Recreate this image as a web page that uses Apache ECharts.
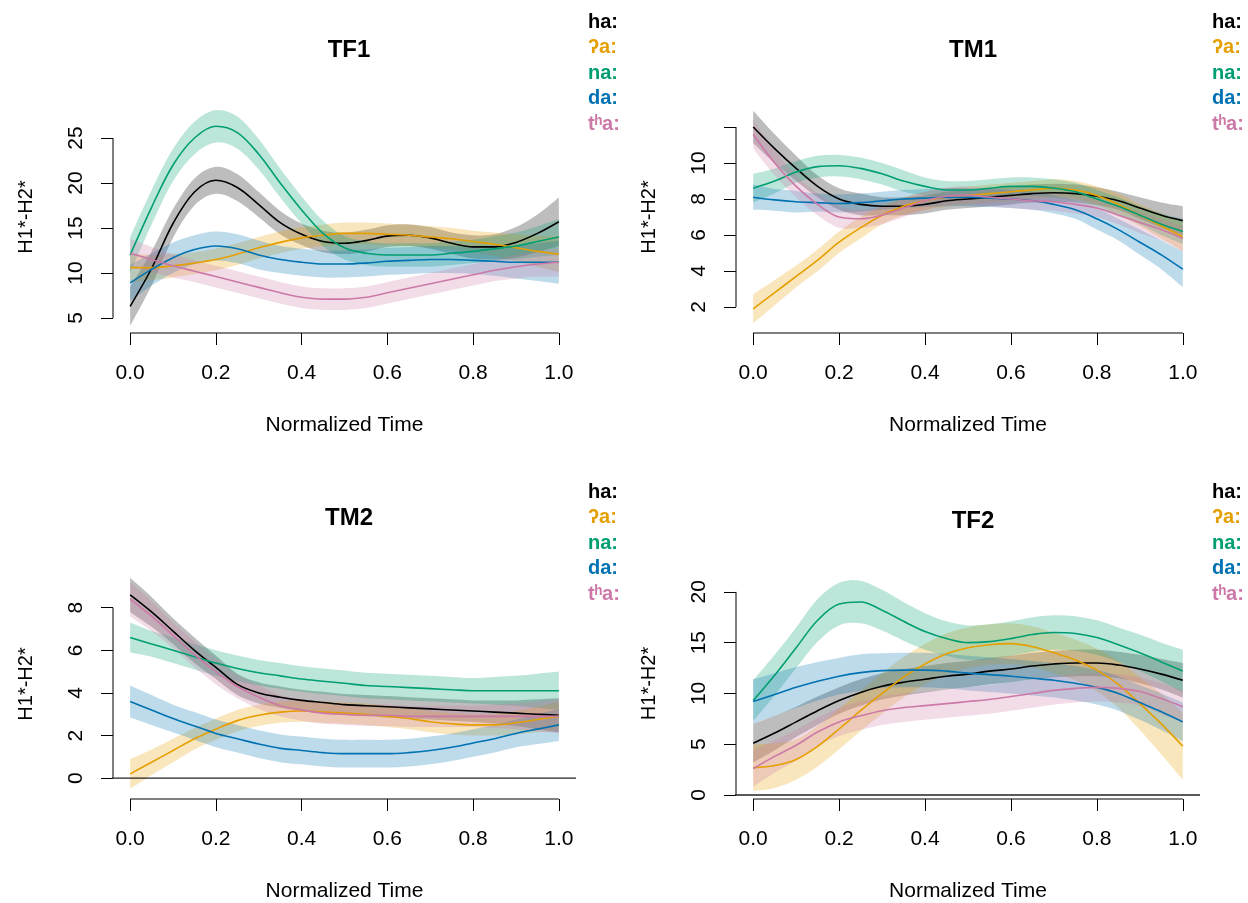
<!DOCTYPE html>
<html>
<head>
<meta charset="utf-8">
<script src="https://cdn.jsdelivr.net/npm/echarts@6/dist/echarts.min.js"></script>
<style>
  html, body { margin: 0; padding: 0; background: #fff; }
  #chart { width: 1248px; height: 903px; }
</style>
</head>
<body>
<div id="chart"></div>
<script>
// Normalized time grid shared by every smooth
const T = [0, 0.05, 0.1, 0.15, 0.2, 0.25, 0.3, 0.35, 0.4, 0.45, 0.5, 0.55, 0.6, 0.65, 0.7, 0.75, 0.8, 0.85, 0.9, 0.95, 1];
const X_TICKS = [0, 0.2, 0.4, 0.6, 0.8, 1];

const ONSETS = ['ha', 'ʔa', 'na', 'da', 'tʰa'];
const COLORS = ['#000000', '#E69F00', '#009E73', '#0072B2', '#CC79A7'];

// ---- TF1: fitted H1*-H2* and half-width of the confidence band ----
const tf1_ha     = [6.3, 10.5, 15.5, 19.0, 20.3, 19.5, 17.6, 15.6, 14.3, 13.5, 13.3, 13.6, 14.1, 14.2, 13.9, 13.3, 12.9, 12.9, 13.4, 14.4, 15.7];
const tf1_ha_ci  = [2.2, 1.9, 1.6, 1.5, 1.5, 1.5, 1.4, 1.3, 1.2, 1.2, 1.2, 1.2, 1.2, 1.2, 1.2, 1.2, 1.3, 1.4, 1.7, 2.1, 2.7];
const tf1_ga     = [10.6, 10.6, 10.8, 11.1, 11.5, 12.1, 12.8, 13.4, 13.9, 14.2, 14.4, 14.4, 14.3, 14.2, 14.0, 13.8, 13.5, 13.2, 12.8, 12.4, 12.1];
const tf1_ga_ci  = [1.6, 1.4, 1.3, 1.2, 1.2, 1.2, 1.2, 1.2, 1.2, 1.2, 1.2, 1.2, 1.2, 1.2, 1.2, 1.2, 1.2, 1.3, 1.5, 1.7, 2.0];
const tf1_na     = [12.0, 17.3, 22.0, 25.0, 26.3, 25.6, 23.2, 20.0, 17.0, 14.4, 12.8, 12.2, 12.0, 12.0, 12.0, 12.2, 12.4, 12.7, 13.0, 13.5, 14.0];
const tf1_na_ci  = [2.0, 1.9, 1.8, 1.8, 1.8, 1.8, 1.7, 1.6, 1.5, 1.4, 1.3, 1.3, 1.3, 1.3, 1.3, 1.3, 1.3, 1.4, 1.5, 1.7, 2.0];
const tf1_da     = [8.9, 10.4, 11.7, 12.6, 13.0, 12.7, 12.0, 11.5, 11.2, 11.0, 11.0, 11.1, 11.3, 11.4, 11.5, 11.5, 11.4, 11.3, 11.2, 11.2, 11.2];
const tf1_da_ci  = [2.0, 1.8, 1.7, 1.6, 1.6, 1.6, 1.6, 1.5, 1.5, 1.5, 1.5, 1.5, 1.5, 1.5, 1.5, 1.5, 1.5, 1.6, 1.8, 2.1, 2.4];
const tf1_tha    = [12.2, 11.5, 10.8, 10.2, 9.6, 9.0, 8.4, 7.8, 7.3, 7.1, 7.1, 7.3, 7.8, 8.3, 8.8, 9.3, 9.8, 10.3, 10.7, 11.0, 11.2];
const tf1_tha_ci = [1.6, 1.4, 1.3, 1.2, 1.2, 1.2, 1.2, 1.2, 1.2, 1.2, 1.2, 1.2, 1.2, 1.2, 1.2, 1.2, 1.2, 1.2, 1.3, 1.4, 1.6];

// ---- TM1 ----
const tm1_ha     = [12.0, 10.8, 9.7, 8.7, 8.0, 7.7, 7.6, 7.6, 7.7, 7.9, 8.0, 8.1, 8.2, 8.3, 8.35, 8.3, 8.15, 7.9, 7.5, 7.1, 6.8];
const tm1_ha_ci  = [0.9, 0.8, 0.7, 0.6, 0.6, 0.6, 0.5, 0.5, 0.5, 0.5, 0.5, 0.5, 0.5, 0.5, 0.5, 0.5, 0.5, 0.5, 0.6, 0.7, 0.8];
const tm1_ga     = [1.9, 2.8, 3.7, 4.6, 5.6, 6.4, 7.1, 7.6, 7.9, 8.1, 8.2, 8.3, 8.4, 8.5, 8.6, 8.5, 8.2, 7.7, 7.1, 6.5, 5.9];
const tm1_ga_ci  = [0.8, 0.7, 0.6, 0.6, 0.6, 0.6, 0.5, 0.5, 0.5, 0.5, 0.5, 0.5, 0.5, 0.5, 0.5, 0.5, 0.5, 0.6, 0.6, 0.7, 0.8];
const tm1_na     = [8.6, 9.0, 9.5, 9.8, 9.85, 9.7, 9.4, 9.0, 8.7, 8.5, 8.5, 8.6, 8.7, 8.7, 8.6, 8.4, 8.0, 7.6, 7.1, 6.6, 6.2];
const tm1_na_ci  = [0.8, 0.7, 0.6, 0.6, 0.6, 0.6, 0.6, 0.6, 0.5, 0.5, 0.5, 0.5, 0.5, 0.5, 0.5, 0.5, 0.5, 0.5, 0.5, 0.6, 0.7];
const tm1_da     = [8.1, 7.95, 7.85, 7.8, 7.75, 7.8, 7.9, 8.0, 8.05, 8.1, 8.1, 8.05, 8.0, 7.9, 7.7, 7.4, 6.9, 6.3, 5.6, 4.9, 4.1];
const tm1_da_ci  = [0.7, 0.6, 0.6, 0.5, 0.5, 0.5, 0.5, 0.5, 0.5, 0.5, 0.5, 0.5, 0.5, 0.5, 0.5, 0.5, 0.6, 0.6, 0.7, 0.8, 1.0];
const tm1_tha    = [11.6, 10.0, 8.7, 7.7, 7.0, 6.9, 7.1, 7.5, 7.9, 8.15, 8.2, 8.1, 8.0, 7.9, 7.85, 7.7, 7.5, 7.1, 6.7, 6.3, 5.8];
const tm1_tha_ci = [0.8, 0.7, 0.6, 0.6, 0.6, 0.5, 0.5, 0.5, 0.5, 0.5, 0.5, 0.5, 0.5, 0.5, 0.5, 0.5, 0.5, 0.5, 0.6, 0.6, 0.7];

// ---- TM2 ----
const tm2_ha     = [8.6, 7.8, 6.9, 6.0, 5.2, 4.4, 4.0, 3.8, 3.65, 3.55, 3.45, 3.4, 3.35, 3.3, 3.25, 3.2, 3.15, 3.1, 3.05, 3.0, 2.95];
const tm2_ha_ci  = [0.8, 0.7, 0.6, 0.6, 0.55, 0.5, 0.5, 0.5, 0.5, 0.5, 0.5, 0.5, 0.5, 0.5, 0.5, 0.5, 0.5, 0.55, 0.6, 0.7, 0.8];
const tm2_ga     = [0.2, 0.75, 1.3, 1.85, 2.3, 2.7, 2.95, 3.1, 3.15, 3.1, 3.05, 3.0, 2.9, 2.8, 2.65, 2.55, 2.5, 2.5, 2.6, 2.75, 2.9];
const tm2_ga_ci  = [0.7, 0.6, 0.55, 0.5, 0.5, 0.5, 0.5, 0.5, 0.5, 0.5, 0.5, 0.5, 0.5, 0.5, 0.5, 0.5, 0.5, 0.5, 0.55, 0.6, 0.7];
const tm2_na     = [6.6, 6.3, 6.0, 5.7, 5.4, 5.15, 4.95, 4.8, 4.65, 4.55, 4.45, 4.35, 4.3, 4.25, 4.2, 4.15, 4.1, 4.1, 4.1, 4.1, 4.1];
const tm2_na_ci  = [0.7, 0.6, 0.6, 0.6, 0.6, 0.6, 0.6, 0.6, 0.6, 0.6, 0.6, 0.6, 0.6, 0.6, 0.6, 0.6, 0.6, 0.65, 0.7, 0.8, 0.9];
const tm2_da     = [3.6, 3.2, 2.8, 2.45, 2.1, 1.85, 1.6, 1.4, 1.3, 1.2, 1.15, 1.15, 1.15, 1.2, 1.3, 1.45, 1.65, 1.85, 2.1, 2.3, 2.5];
const tm2_da_ci  = [0.75, 0.7, 0.65, 0.65, 0.65, 0.65, 0.65, 0.65, 0.65, 0.65, 0.65, 0.65, 0.65, 0.65, 0.65, 0.65, 0.65, 0.65, 0.65, 0.7, 0.75];
const tm2_tha    = [8.4, 7.6, 6.7, 5.8, 5.0, 4.3, 3.8, 3.4, 3.2, 3.05, 3.0, 2.95, 2.95, 2.9, 2.9, 2.9, 2.9, 2.9, 2.9, 2.9, 2.9];
const tm2_tha_ci = [0.8, 0.7, 0.6, 0.6, 0.6, 0.55, 0.55, 0.5, 0.5, 0.5, 0.5, 0.5, 0.5, 0.5, 0.5, 0.5, 0.5, 0.55, 0.6, 0.7, 0.8];

// ---- TF2 ----
const tf2_ha     = [5.1, 6.1, 7.2, 8.3, 9.3, 10.1, 10.7, 11.1, 11.4, 11.7, 11.9, 12.2, 12.4, 12.7, 12.9, 13.0, 13.0, 12.8, 12.4, 11.9, 11.3];
const tf2_ha_ci  = [1.9, 1.7, 1.5, 1.4, 1.3, 1.3, 1.3, 1.3, 1.3, 1.3, 1.3, 1.3, 1.3, 1.3, 1.3, 1.3, 1.3, 1.3, 1.4, 1.5, 1.7];
const tf2_ga     = [2.7, 2.9, 3.5, 4.8, 6.5, 8.3, 10.0, 11.6, 12.9, 13.9, 14.5, 14.8, 14.9, 14.6, 14.0, 13.3, 12.3, 10.9, 9.0, 7.0, 4.8];
const tf2_ga_ci  = [2.3, 2.2, 2.0, 2.0, 2.0, 2.0, 2.0, 2.0, 2.0, 2.0, 2.0, 2.0, 2.0, 2.0, 2.0, 2.0, 2.1, 2.3, 2.6, 3.0, 3.3];
const tf2_na     = [9.3, 11.8, 14.5, 17.2, 18.8, 19.0, 18.2, 17.1, 16.1, 15.4, 15.0, 15.1, 15.4, 15.8, 16.0, 15.9, 15.5, 14.8, 14.0, 13.1, 12.2];
const tf2_na_ci  = [2.0, 2.0, 2.0, 2.1, 2.1, 2.1, 2.0, 1.9, 1.8, 1.7, 1.7, 1.7, 1.7, 1.7, 1.7, 1.7, 1.7, 1.7, 1.8, 1.9, 2.1];
const tf2_da     = [9.2, 9.9, 10.6, 11.2, 11.7, 12.05, 12.25, 12.3, 12.3, 12.2, 12.0, 11.85, 11.7, 11.5, 11.3, 11.0, 10.6, 10.0, 9.1, 8.2, 7.2];
const tf2_da_ci  = [2.2, 2.1, 2.0, 1.9, 1.8, 1.8, 1.7, 1.7, 1.7, 1.7, 1.7, 1.7, 1.7, 1.7, 1.7, 1.7, 1.7, 1.7, 1.7, 1.8, 1.9];
const tf2_tha    = [2.6, 3.8, 4.9, 6.2, 7.2, 7.8, 8.3, 8.6, 8.8, 9.0, 9.2, 9.4, 9.7, 10.0, 10.3, 10.5, 10.6, 10.5, 10.2, 9.5, 8.7];
const tf2_tha_ci = [1.8, 1.6, 1.5, 1.4, 1.4, 1.4, 1.4, 1.4, 1.4, 1.4, 1.4, 1.4, 1.4, 1.4, 1.4, 1.4, 1.4, 1.4, 1.4, 1.5, 1.6];

// y-axis tick values and which of them carry a label
const tf1_yticks = [5, 10, 15, 20, 25];
const tm1_yticks = [2, 4, 6, 8, 10, 12];
const tm1_ylabels = [2, 4, 6, 8, 10];
const tm2_yticks = [0, 2, 4, 6, 8];
const tf2_yticks = [0, 5, 10, 15, 20];

const FONT = 'Liberation Sans, Arial, Helvetica, sans-serif';

const panels = [
  { title: 'TF1', fits: [[tf1_ha, tf1_ha_ci], [tf1_ga, tf1_ga_ci], [tf1_na, tf1_na_ci], [tf1_da, tf1_da_ci], [tf1_tha, tf1_tha_ci]],
    grid: { left: 113, top: 101, width: 463, height: 232 }, yMin: 3.333, yMax: 29.111,
    yTicks: tf1_yticks, yLabels: tf1_yticks, zeroLine: false,
    titlePos: [344, 33], legendPos: [578, 7] },
  { title: 'TM1', fits: [[tm1_ha, tm1_ha_ci], [tm1_ga, tm1_ga_ci], [tm1_na, tm1_na_ci], [tm1_da, tm1_da_ci], [tm1_tha, tm1_tha_ci]],
    grid: { left: 736, top: 101, width: 464, height: 232 }, yMin: 0.556, yMax: 13.444,
    yTicks: tm1_yticks, yLabels: tm1_ylabels, zeroLine: false,
    titlePos: [968, 33], legendPos: [1202, 7] },
  { title: 'TM2', fits: [[tm2_ha, tm2_ha_ci], [tm2_ga, tm2_ga_ci], [tm2_na, tm2_na_ci], [tm2_da, tm2_da_ci], [tm2_tha, tm2_tha_ci]],
    grid: { left: 113, top: 569, width: 463, height: 232 }, yMin: -0.977, yMax: 9.814,
    yTicks: tm2_yticks, yLabels: tm2_yticks, zeroLine: true,
    titlePos: [344, 501], legendPos: [578, 477] },
  { title: 'TF2', fits: [[tf2_ha, tf2_ha_ci], [tf2_ga, tf2_ga_ci], [tf2_na, tf2_na_ci], [tf2_da, tf2_da_ci], [tf2_tha, tf2_tha_ci]],
    grid: { left: 736, top: 568, width: 464, height: 232 }, yMin: -0.392, yMax: 22.35,
    yTicks: tf2_yticks, yLabels: tf2_yticks, zeroLine: true,
    titlePos: [968, 504], legendPos: [1202, 477] }
];

const X_MIN = -0.04, X_MAX = 1.04;
const textBase = { color: '#000', fontFamily: FONT };

// Catmull-Rom curve through pixel points, written as cubic Bezier path commands
function curveThrough(pts) {
  let d = '';
  for (let i = 0; i < pts.length - 1; i++) {
    const p0 = pts[i - 1] || pts[i], p1 = pts[i], p2 = pts[i + 1], p3 = pts[i + 2] || p2;
    const c1x = p1[0] + (p2[0] - p0[0]) / 6, c1y = p1[1] + (p2[1] - p0[1]) / 6;
    const c2x = p2[0] - (p3[0] - p1[0]) / 6, c2y = p2[1] - (p3[1] - p1[1]) / 6;
    d += ` C${c1x},${c1y} ${c2x},${c2y} ${p2[0]},${p2[1]}`;
  }
  return d;
}

// Confidence band as one closed path: smooth upper edge forward, smooth lower edge back
function bandRenderer(rows, color) {
  return function (params, api) {
    if (params.dataIndex !== 0) return null;
    const upper = rows.map(r => api.coord([r[0], r[2]]));
    const lower = rows.map(r => api.coord([r[0], r[1]])).reverse();
    const d = `M${upper[0][0]},${upper[0][1]}` + curveThrough(upper) +
              ` L${lower[0][0]},${lower[0][1]}` + curveThrough(lower) + ' Z';
    return {
      type: 'path',
      shape: { pathData: d },
      style: { fill: color, opacity: 0.26, stroke: null }
    };
  };
}

const grids = [], xAxes = [], yAxes = [], titles = [], legends = [];
const bandSeries = [], lineSeries = [], frameSeries = [];

panels.forEach((p, k) => {
  grids.push(Object.assign({ containLabel: false }, p.grid));

  xAxes.push({
    type: 'value', gridIndex: k, min: X_MIN, max: X_MAX,
    axisLine: { show: false, onZero: false },
    splitLine: { show: false },
    axisTick: { show: true, inside: false, length: 12, customValues: X_TICKS, lineStyle: { color: '#000', width: 1 } },
    axisLabel: { customValues: X_TICKS, formatter: v => v.toFixed(1), margin: 30, fontSize: 21, ...textBase },
    name: 'Normalized Time', nameLocation: 'middle', nameGap: 82,
    nameTextStyle: { fontSize: 21, ...textBase }
  });

  yAxes.push({
    type: 'value', gridIndex: k, min: p.yMin, max: p.yMax,
    axisLine: { show: false, onZero: false },
    splitLine: { show: false },
    axisTick: { show: true, inside: false, length: 12, customValues: p.yTicks, lineStyle: { color: '#000', width: 1 } },
    axisLabel: { customValues: p.yLabels, rotate: 90, margin: 26, fontSize: 21, ...textBase,
                 formatter: v => String(v) },
    name: 'H1*-H2*', nameLocation: 'middle', nameGap: 77,
    nameTextStyle: { fontSize: 20, ...textBase }
  });

  titles.push({
    text: p.title, left: p.titlePos[0], top: p.titlePos[1], textAlign: 'center',
    textStyle: { fontSize: 24, fontWeight: 'bold', ...textBase }
  });

  legends.push({
    orient: 'vertical', left: p.legendPos[0], top: p.legendPos[1],
    itemWidth: 0, itemHeight: 0, itemGap: 5.5, icon: 'rect',
    formatter: '{name}:', selectedMode: true,
    textStyle: { fontSize: 20, fontWeight: 'bold', fontFamily: FONT },
    data: ONSETS.map((n, i) => ({ name: n, textStyle: { color: COLORS[i] } }))
  });

  // axis lines spanning only the tick range
  frameSeries.push({
    type: 'line', xAxisIndex: k, yAxisIndex: k, silent: true, clip: false, symbol: 'none', z: 6,
    lineStyle: { color: '#000', width: 1 },
    data: [[X_TICKS[0], p.yMin], [X_TICKS[X_TICKS.length - 1], p.yMin]]
  });
  frameSeries.push({
    type: 'line', xAxisIndex: k, yAxisIndex: k, silent: true, clip: false, symbol: 'none', z: 6,
    lineStyle: { color: '#000', width: 1 },
    data: [[X_MIN, p.yTicks[0]], [X_MIN, p.yTicks[p.yTicks.length - 1]]]
  });
  if (p.zeroLine) {
    frameSeries.push({
      type: 'line', xAxisIndex: k, yAxisIndex: k, silent: true, clip: false, symbol: 'none', z: 6,
      lineStyle: { color: '#222', width: 1.3 },
      data: [[-0.07, 0], [X_MAX, 0]]
    });
  }

  p.fits.forEach(([mean, ci], s) => {
    const rows = T.map((t, i) => [t, mean[i] - ci[i], mean[i] + ci[i]]);
    bandSeries.push({
      type: 'custom', name: ONSETS[s], xAxisIndex: k, yAxisIndex: k, silent: true, z: 2,
      itemStyle: { color: COLORS[s] },
      encode: { x: 0, y: [1, 2] },
      data: rows,
      renderItem: bandRenderer(rows, COLORS[s])
    });
    lineSeries.push({
      type: 'line', name: ONSETS[s], xAxisIndex: k, yAxisIndex: k, z: 4,
      symbol: 'none', smooth: 0.35,
      lineStyle: { color: COLORS[s], width: 1.6 },
      itemStyle: { color: COLORS[s] },
      data: T.map((t, i) => [t, mean[i]])
    });
  });
});

const chart = echarts.init(document.getElementById('chart'), null, { renderer: 'canvas' });
chart.setOption({
  backgroundColor: '#fff',
  animation: false,
  title: titles,
  legend: legends,
  grid: grids,
  xAxis: xAxes,
  yAxis: yAxes,
  series: [...bandSeries, ...lineSeries, ...frameSeries]
});
</script>
</body>
</html>
